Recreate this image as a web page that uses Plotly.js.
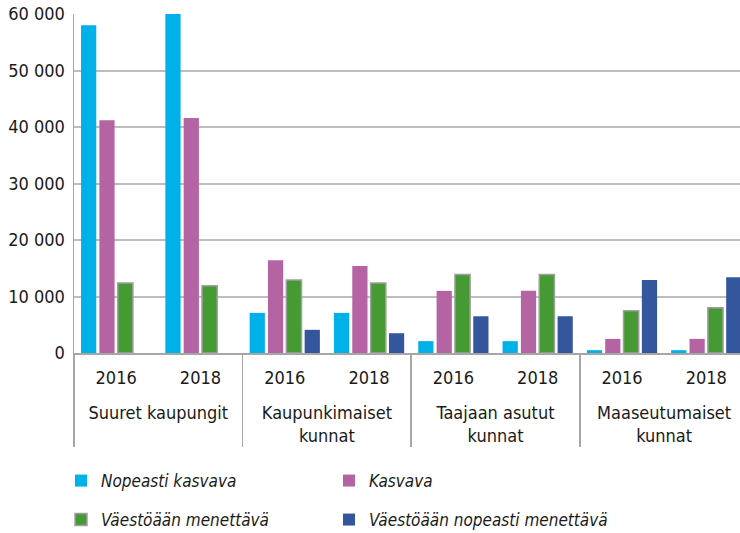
<!DOCTYPE html>
<html>
<head>
<meta charset="utf-8">
<script src="https://cdn.plot.ly/plotly-3.0.1.min.js"></script>
<style>html,body{margin:0;padding:0;background:#fff}#chart{width:740px;height:533px}</style>
</head>
<body>
<div id="chart"></div>
<script>
var groups = ['Suuret kaupungit','Suuret kaupungit','Kaupunkimaiset<br>kunnat','Kaupunkimaiset<br>kunnat','Taajaan asutut<br>kunnat','Taajaan asutut<br>kunnat','Maaseutumaiset<br>kunnat','Maaseutumaiset<br>kunnat'];
var years = ['2016','2018','2016','2018','2016','2018','2016','2018'];
var seriesNames = ['Nopeasti kasvava','Kasvava','Väestöään menettävä','Väestöään nopeasti menettävä'];
var nopeastiKasvava = [58000, 60000, 7100, 7100, 2100, 2100, 500, 500];
var kasvava = [41200, 41600, 16400, 15400, 11000, 11000, 2500, 2500];
var menettava = [12400, 11900, 12900, 12400, 13900, 13900, 7500, 8000];
var nopeastiMenettava = [null, null, 4100, 3500, 6500, 6500, 12900, 13400];
var colors = ['#00B0E8','#B564A3','#459A33','#34569C'];
var yTicks = [0, 10000, 20000, 30000, 40000, 50000, 60000];

var FONT = '"Liberation Sans Narrow", "DejaVu Sans Condensed", sans-serif';
// year labels get a tiny blank second line so the group row sits lower
var yearLabels = years.map(function(y){ return y + '<br><span style="font-size:1px"> </span>'; });
var allSeries = [nopeastiKasvava, kasvava, menettava, nopeastiMenettava];
var legendIds = ['legend','legend2','legend3','legend4'];
var traces = allSeries.map(function(vals, i){
  return {
    type: 'bar',
    name: seriesNames[i],
    x: [groups, yearLabels],
    y: vals,
    legend: legendIds[i],
    marker: {color: colors[i], line: {color: i === 2 ? '#A0A0A0' : 'rgba(0,0,0,0)', width: i === 2 ? 1.5 : 0}},
    hoverinfo: 'skip'
  };
});

function mkLegend(px, py){
  return {
    orientation: 'h', xref: 'container', yref: 'container', xanchor: 'left', yanchor: 'middle',
    x: px / 740, y: (533 - py) / 533,
    font: {family: FONT, size: 17, color: '#1a1a1a', style: 'italic'},
    bgcolor: 'rgba(0,0,0,0)', borderwidth: 0, itemclick: false, itemdoubleclick: false
  };
}

var layout = {
  width: 740, height: 533,
  margin: {l: 74, r: 0, t: 14, b: 180},
  paper_bgcolor: '#fff', plot_bgcolor: '#fff',
  barmode: 'group', bargap: 0.13, bargroupgap: 0.17,
  separators: ', ',
  font: {family: FONT, size: 18, color: '#1a1a1a'},
  showlegend: true,
  legend: mkLegend(61, 481),
  legend2: mkLegend(329, 481),
  legend3: mkLegend(61, 520),
  legend4: mkLegend(329, 520),
  xaxis: {
    type: 'multicategory',
    range: [-0.5, 7.4],
    showline: true, linecolor: '#A6A6A6', linewidth: 1.5,
    showgrid: false,
    showdividers: true, dividercolor: '#A6A6A6', dividerwidth: 1.5,
    tickfont: {family: FONT, size: 18, color: '#1a1a1a'},
    ticks: '', ticklabelstandoff: 8
  },
  yaxis: {
    range: [0, 60000],
    tickvals: yTicks,
    tickformat: ',d',
    showgrid: true, gridcolor: '#BDBDBD', gridwidth: 2,
    showline: true, linecolor: '#A6A6A6', linewidth: 1.5,
    zeroline: false,
    ticks: '', ticklabelstandoff: 4,
    tickfont: {family: FONT, size: 18, color: '#1a1a1a'}
  }
};

Plotly.newPlot('chart', traces, layout, {staticPlot: true, displayModeBar: false});
</script>
</body>
</html>
